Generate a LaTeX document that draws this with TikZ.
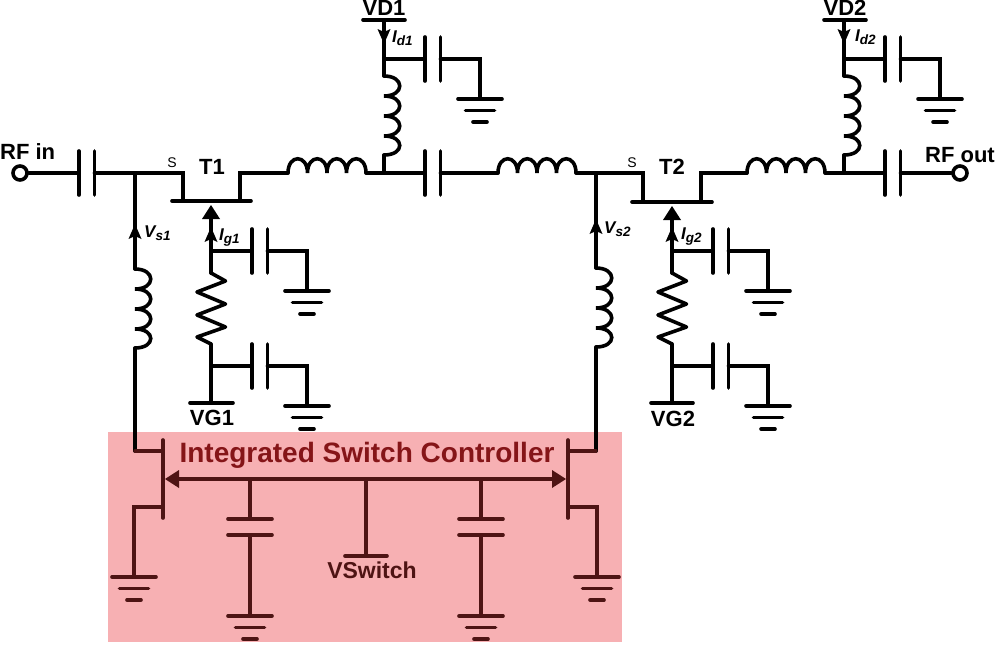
\documentclass[tikz,border=0pt]{standalone}
\usepackage{fontspec}
\setmainfont{Liberation Sans}
\definecolor{wineline}{HTML}{4E1414}
\definecolor{winetext}{HTML}{851518}
\definecolor{pinkbox}{HTML}{F7B0B3}
\newcommand{\lab}[2]{{\fontsize{17}{17}\selectfont\bfseries\itshape #1\raisebox{-3pt}{\fontsize{13.5}{13.5}\selectfont #2}}}
\tikzset{
  wire/.style={line width=3.6pt,line cap=round,line join=miter},
  thinwire/.style={line width=3.2pt,line cap=round,line join=miter},
  portnode/.style={circle,draw,line width=3.6pt,fill=white,minimum size=14pt,inner sep=0pt},
  big/.style={font=\fontsize{22}{22}\selectfont\bfseries,inner sep=0pt},
  pics/gndsym/.style={code={
    \draw[wire] (-22,0) -- (22,0);
    \draw[wire] (-14.5,11.5) -- (14.5,11.5);
    \draw[wire] (-7,23) -- (7,23);
  }},
  pics/hcapsym/.style={code={
    \draw[wire] (0,-22) -- (0,22);
    \draw[wire] (15.5,-22) -- (15.5,22);
  }},
  pics/vcapsym/.style={code={
    \draw[wire] (-22,0) -- (22,0);
    \draw[wire] (-22,16) -- (22,16);
  }},
  pics/decap/.style={code={
    \draw[wire] (0,0) -- (41,0);
    \draw[wire] (41,-22) -- (41,22);
    \draw[wire] (56.5,-22) -- (56.5,22);
    \draw[wire] (56.5,0) -- (96,0) -- (96,40);
    \pic at (96,40) {gndsym};
  }},
  pics/hind/.style={code={
    \draw[wire] (0,0)
      .. controls (0,-19) and (19.5,-19) .. (19.5,0)
      .. controls (19.5,-19) and (39,-19) .. (39,0)
      .. controls (39,-19) and (58.5,-19) .. (58.5,0)
      .. controls (58.5,-19) and (78,-19) .. (78,0);
  }},
  pics/vind/.style={code={
    \draw[wire] (0,0)
      .. controls (21,0) and (21,20) .. (0,20)
      .. controls (21,20) and (21,40) .. (0,40)
      .. controls (21,40) and (21,60) .. (0,60)
      .. controls (21,60) and (21,79) .. (0,79);
  }},
  pics/resist/.style={code={
    \draw[wire,line join=round] (0,0) -- (14.5,8) -- (-14,19) -- (14.5,31) -- (-14,42) -- (14.5,54) -- (-14,64) -- (0,71);
  }},
  pics/upsmall/.style={code={\fill (0,0) -- (6.5,15) -- (0,12) -- (-6.5,15) -- cycle;}},
  pics/downsmall/.style={code={\fill (0,0) -- (6.5,-15) -- (0,-12) -- (-6.5,-15) -- cycle;}},
  pics/upbig/.style={code={\fill (0,0) -- (9,14) -- (-9,14) -- cycle;}},
  pics/leftbig/.style={code={\fill (0,0) -- (14,-9) -- (14,9) -- cycle;}},
  pics/rightbig/.style={code={\fill (0,0) -- (-14,-9) -- (-14,9) -- cycle;}},
}
\begin{document}
\begin{tikzpicture}[x=1pt,y=-1pt]
\useasboundingbox (0,0) rectangle (995,645);
\fill[pinkbox] (108,432) rectangle (622,642);

% named points
\coordinate (c1) at (79,173);  \coordinate (c1b) at (94.5,173);
\coordinate (js1) at (135,173);
\coordinate (s1) at (183,173); \coordinate (s1g) at (183,201);
\coordinate (d1) at (240,173); \coordinate (d1g) at (240,201);
\coordinate (bar1l) at (172,201); \coordinate (bar1r) at (251,201);
\coordinate (l1) at (288,173); \coordinate (l1b) at (366,173);
\coordinate (j2) at (384,173);
\coordinate (c2) at (425,173); \coordinate (c2b) at (440.5,173);
\coordinate (l2) at (498,173); \coordinate (l2b) at (576,173);
\coordinate (js2) at (596,173);
\coordinate (s2) at (643,173); \coordinate (s2g) at (643,202);
\coordinate (d2) at (701,173); \coordinate (d2g) at (701,202);
\coordinate (bar2l) at (632,202); \coordinate (bar2r) at (712,202);
\coordinate (l3) at (747,173); \coordinate (l3b) at (825,173);
\coordinate (j4) at (844,173);
\coordinate (c3) at (885,173); \coordinate (c3b) at (900.5,173);

\coordinate (vd1) at (384,20); \coordinate (vd1l) at (363,20); \coordinate (vd1r) at (405,20);
\coordinate (jd1) at (384,59); \coordinate (ld1) at (384,76); \coordinate (ld1b) at (384,155);
\coordinate (vd2) at (844,20); \coordinate (vd2l) at (824,20); \coordinate (vd2r) at (866,20);
\coordinate (jd2) at (844,59); \coordinate (ld2) at (844,76); \coordinate (ld2b) at (844,155);

\coordinate (g1) at (211,205); \coordinate (jg1) at (211,251); \coordinate (r1) at (211,273);
\coordinate (r1b) at (211,344); \coordinate (jg1b) at (211,366); \coordinate (vg1) at (211,403);
\coordinate (vg1l) at (190,403); \coordinate (vg1r) at (233,403);
\coordinate (g2) at (672,206); \coordinate (jg2) at (672,251); \coordinate (r2) at (672,273);
\coordinate (r2b) at (672,344); \coordinate (jg2b) at (672,366); \coordinate (vg2) at (672,403);
\coordinate (vg2l) at (651,403); \coordinate (vg2r) at (693,403);

\coordinate (ls1) at (135,269); \coordinate (ls1b) at (135,348); \coordinate (k1) at (135,451);
\coordinate (ls2) at (596,268); \coordinate (ls2b) at (596,347); \coordinate (k2) at (596,451);

% RF path
\node[portnode] (rfin) at (20,173) {};
\node[portnode] (rfout) at (960,173) {};
\draw[wire] (rfin) -- (c1);
\pic at (c1) {hcapsym};
\draw[wire] (c1b) -- (js1) -- (s1) -- (s1g);
\draw[wire] (bar1l) -- (bar1r);
\draw[wire] (d1g) -- (d1) -- (l1);
\pic at (l1) {hind};
\draw[wire] (l1b) -- (j2) -- (c2);
\pic at (c2) {hcapsym};
\draw[wire] (c2b) -- (l2);
\pic at (l2) {hind};
\draw[wire] (l2b) -- (js2) -- (s2) -- (s2g);
\draw[wire] (bar2l) -- (bar2r);
\draw[wire] (d2g) -- (d2) -- (l3);
\pic at (l3) {hind};
\draw[wire] (l3b) -- (j4) -- (c3);
\pic at (c3) {hcapsym};
\draw[wire] (c3b) -- (rfout);

% drain bias
\draw[wire] (vd1l) -- (vd1r);
\draw[wire] (vd1) -- (jd1) -- (ld1);
\pic at (ld1) {vind};
\draw[wire] (ld1b) -- (j2);
\pic at (jd1) {decap};
\pic at (384,44) {downsmall};
\draw[wire] (vd2l) -- (vd2r);
\draw[wire] (vd2) -- (jd2) -- (ld2);
\pic at (ld2) {vind};
\draw[wire] (ld2b) -- (j4);
\pic at (jd2) {decap};
\pic at (844,44) {downsmall};

% gate bias
\pic at (g1) {upbig};
\draw[wire] (211,216) -- (jg1) -- (r1);
\pic at (r1) {resist};
\draw[wire] (r1b) -- (jg1b) -- (vg1);
\draw[wire] (vg1l) -- (vg1r);
\pic at (jg1) {decap};
\pic at (jg1b) {decap};
\pic at (211,227) {upsmall};
\pic at (g2) {upbig};
\draw[wire] (672,217) -- (jg2) -- (r2);
\pic at (r2) {resist};
\draw[wire] (r2b) -- (jg2b) -- (vg2);
\draw[wire] (vg2l) -- (vg2r);
\pic at (jg2) {decap};
\pic at (jg2b) {decap};
\pic at (672,227) {upsmall};

% source feeds
\draw[wire] (js1) -- (ls1);
\pic at (ls1) {vind};
\draw[wire] (ls1b) -- (k1);
\pic at (135,224) {upsmall};
\draw[wire] (js2) -- (ls2);
\pic at (ls2) {vind};
\draw[wire] (ls2b) -- (k2);
\pic at (596,219) {upsmall};

% switch controller
\begin{scope}[color=wineline]
  \coordinate (sw1) at (163,479); \coordinate (sw2) at (568,479);
  \draw[wire] (163,440) -- (163,518);
  \draw[wire] (568,440) -- (568,518);
  \draw[thinwire] (k1) -- (163,451);
  \draw[thinwire] (k2) -- (568,451);
  \draw[thinwire] (163,507) -- (134,507) -- (134,577);
  \draw[thinwire] (568,507) -- (597,507) -- (597,577);
  \pic at (134,577) {gndsym};
  \pic at (597,577) {gndsym};
  \draw[wire] (175,479) -- (555,479);
  \pic at (165,479) {leftbig};
  \pic at (566,479) {rightbig};
  \coordinate (t1) at (250,479); \coordinate (t2) at (366,479); \coordinate (t3) at (481,479);
  \draw[thinwire] (t1) -- (250,519);
  \pic at (250,519) {vcapsym};
  \draw[thinwire] (250,535) -- (250,616);
  \pic at (250,616) {gndsym};
  \draw[thinwire] (t3) -- (481,519);
  \pic at (481,519) {vcapsym};
  \draw[thinwire] (481,535) -- (481,616);
  \pic at (481,616) {gndsym};
  \draw[thinwire] (t2) -- (366,556);
  \draw[wire] (345,556) -- (387,556);
\end{scope}

% labels
\node[big,anchor=west] (trfin) at (0,152) {RF in};
\node[big,anchor=east] (trfout) at (995,155) {RF out};
\node[big] (tt1) at (212,167) {T1};
\node[big] (tt2) at (672,167) {T2};
\node[inner sep=0pt,font=\fontsize{14}{14}\selectfont] (ts1) at (172,163) {S};
\node[inner sep=0pt,font=\fontsize{14}{14}\selectfont] (ts2) at (632,163) {S};
\node[big] (tvd1) at (384,8) {VD1};
\node[big] (tvd2) at (845,8) {VD2};
\node[big] (tvg1) at (212,418) {VG1};
\node[big] (tvg2) at (673,419) {VG2};
\node[inner sep=0pt,anchor=west] (tvs1) at (144,233) {\lab{V}{s1}};
\node[inner sep=0pt,anchor=west] (tvs2) at (604,229) {\lab{V}{s2}};
\node[inner sep=0pt,anchor=west] (tig1) at (219,238) {\lab{I}{g1}};
\node[inner sep=0pt,anchor=west] (tig2) at (681,237) {\lab{I}{g2}};
\node[inner sep=0pt,anchor=west] (tid1) at (392,38) {\lab{I}{d1}};
\node[inner sep=0pt,anchor=west] (tid2) at (855,37) {\lab{I}{d2}};
\node[inner sep=0pt,text=winetext,font=\fontsize{28}{28}\selectfont\bfseries] (tisc) at (367,455) {Integrated Switch Controller};
\node[inner sep=0pt,text=wineline,font=\fontsize{23}{23}\selectfont\bfseries] (tvsw) at (372,570) {VSwitch};
\end{tikzpicture}
\end{document}
